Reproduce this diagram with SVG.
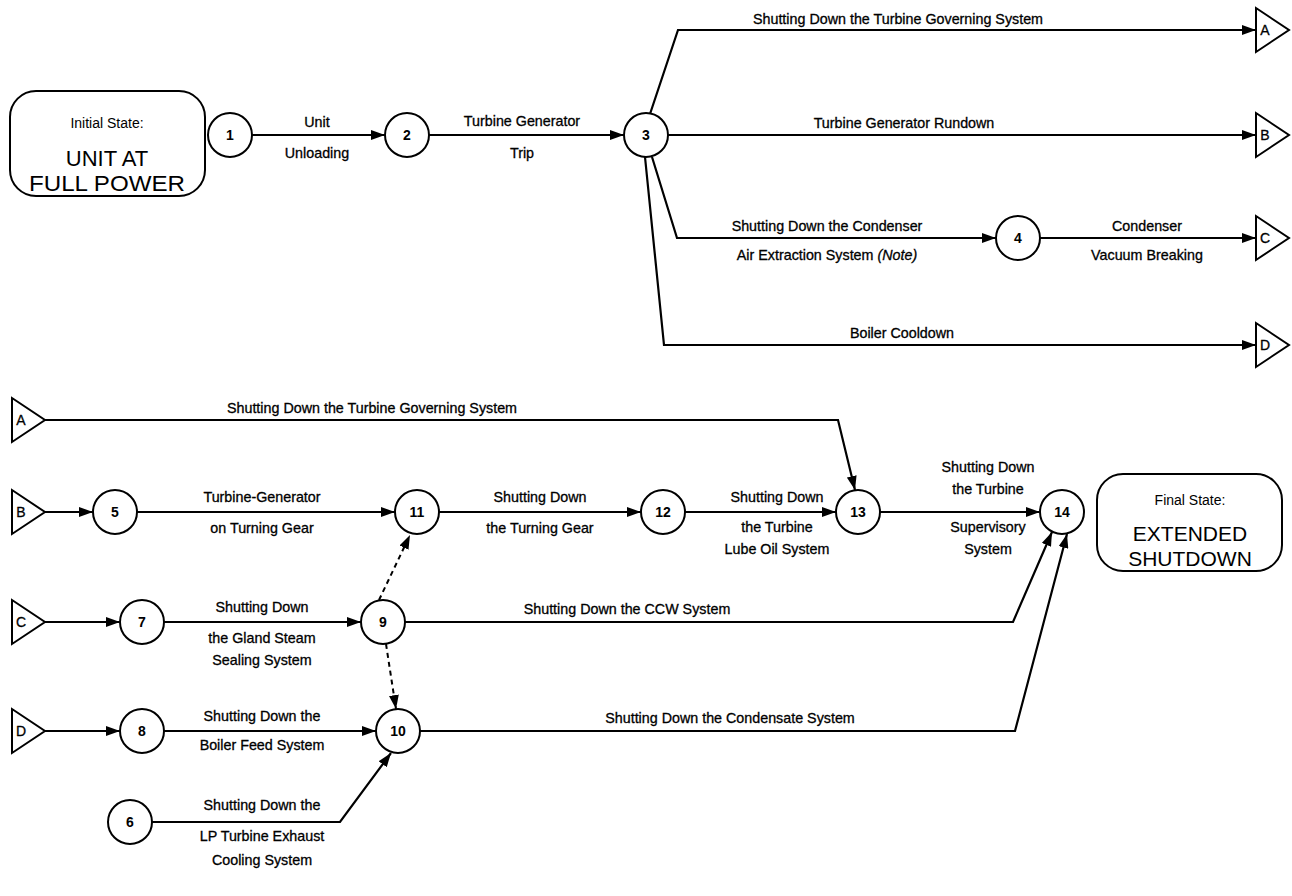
<svg xmlns="http://www.w3.org/2000/svg" width="1292" height="896" viewBox="0 0 1292 896">
<style>
text{font-family:"Liberation Sans",Arial,sans-serif;fill:#000;text-anchor:middle}
.lbl{font-size:14.3px;stroke:#000;stroke-width:0.3}
.num{font-size:14px;font-weight:bold}
.big{font-size:22px}
.big2{font-size:21px}
.st{font-size:14px}
.tri{font-size:14px;stroke:#000;stroke-width:0.3}
.shape{fill:#fff;stroke:#000;stroke-width:2}
.c{fill:none;stroke:#000;stroke-width:2.2}
.d{fill:none;stroke:#000;stroke-width:2;stroke-dasharray:5 4}
</style>
<defs>
<marker id="ah" viewBox="0 0 14 10" refX="14" refY="5" markerWidth="14" markerHeight="10" markerUnits="userSpaceOnUse" orient="auto"><path d="M0,0 L14,5 L0,10 Z" fill="#000"/></marker>
</defs>
<rect width="1292" height="896" fill="#fff"/>
<g id="connectors">
<line class="c" x1="252" y1="135" x2="385" y2="135" marker-end="url(#ah)"/>
<line class="c" x1="429" y1="135" x2="624" y2="135" marker-end="url(#ah)"/>
<path class="c" d="M650,114 L678,30 L1256,30" marker-end="url(#ah)"/>
<line class="c" x1="668" y1="135" x2="1256" y2="135" marker-end="url(#ah)"/>
<path class="c" d="M652,157 L677,238 L996,238" marker-end="url(#ah)"/>
<line class="c" x1="1040" y1="238" x2="1256" y2="238" marker-end="url(#ah)"/>
<path class="c" d="M645,157 L664,345 L1256,345" marker-end="url(#ah)"/>
<path class="c" d="M45,420 L838,420 L855,490" marker-end="url(#ah)"/>
<line class="c" x1="45" y1="512" x2="93" y2="512" marker-end="url(#ah)"/>
<line class="c" x1="137" y1="512" x2="395" y2="512" marker-end="url(#ah)"/>
<line class="c" x1="439" y1="512" x2="641" y2="512" marker-end="url(#ah)"/>
<line class="c" x1="685" y1="512" x2="836" y2="512" marker-end="url(#ah)"/>
<line class="c" x1="880" y1="512" x2="1040" y2="512" marker-end="url(#ah)"/>
<line class="c" x1="45" y1="622" x2="120" y2="622" marker-end="url(#ah)"/>
<line class="c" x1="164" y1="622" x2="361" y2="622" marker-end="url(#ah)"/>
<path class="c" d="M405,622 L1013,622 L1052,532" marker-end="url(#ah)"/>
<path class="d" d="M379,600 L410,535" marker-end="url(#ah)"/>
<path class="d" d="M386,644 L396,709" marker-end="url(#ah)"/>
<line class="c" x1="45" y1="731" x2="120" y2="731" marker-end="url(#ah)"/>
<line class="c" x1="164" y1="731" x2="376" y2="731" marker-end="url(#ah)"/>
<path class="c" d="M420,731 L1015,731 L1067,534" marker-end="url(#ah)"/>
<path class="c" d="M152,822 L340,822 L391,753" marker-end="url(#ah)"/>
</g>
<g id="labels">
<text class="lbl" x="317" y="127">Unit</text>
<text class="lbl" x="317" y="158">Unloading</text>
<text class="lbl" x="522" y="126">Turbine Generator</text>
<text class="lbl" x="522" y="158">Trip</text>
<text class="lbl" x="898" y="24">Shutting Down the Turbine Governing System</text>
<text class="lbl" x="904" y="128">Turbine Generator Rundown</text>
<text class="lbl" x="827" y="231">Shutting Down the Condenser</text>
<text class="lbl" x="827" y="260">Air Extraction System  <tspan font-style="italic">(Note)</tspan></text>
<text class="lbl" x="1147" y="231">Condenser</text>
<text class="lbl" x="1147" y="260">Vacuum Breaking</text>
<text class="lbl" x="902" y="338">Boiler Cooldown</text>
<text class="lbl" x="372" y="413">Shutting Down the Turbine Governing System</text>
<text class="lbl" x="262" y="502">Turbine-Generator</text>
<text class="lbl" x="262" y="533">on Turning Gear</text>
<text class="lbl" x="540" y="502">Shutting Down</text>
<text class="lbl" x="540" y="533">the Turning Gear</text>
<text class="lbl" x="777" y="502">Shutting Down</text>
<text class="lbl" x="777" y="532">the  Turbine</text>
<text class="lbl" x="777" y="554">Lube Oil System</text>
<text class="lbl" x="988" y="472">Shutting Down</text>
<text class="lbl" x="988" y="494">the Turbine</text>
<text class="lbl" x="988" y="532">Supervisory</text>
<text class="lbl" x="988" y="554">System</text>
<text class="lbl" x="262" y="612">Shutting Down</text>
<text class="lbl" x="262" y="643">the Gland Steam</text>
<text class="lbl" x="262" y="665">Sealing System</text>
<text class="lbl" x="627" y="614">Shutting Down the CCW System</text>
<text class="lbl" x="262" y="721">Shutting Down the</text>
<text class="lbl" x="262" y="750">Boiler Feed System</text>
<text class="lbl" x="730" y="723">Shutting Down the Condensate System</text>
<text class="lbl" x="262" y="810">Shutting Down the</text>
<text class="lbl" x="262" y="841">LP Turbine Exhaust</text>
<text class="lbl" x="262" y="865">Cooling System</text>
</g>
<g id="initial">
<rect class="shape" x="10" y="91" width="195" height="105" rx="26"/>
<text class="st" x="107" y="128">Initial State:</text>
<text class="big" x="107" y="166">UNIT AT</text>
<text class="big" x="107" y="191" textLength="156" lengthAdjust="spacingAndGlyphs">FULL POWER</text>
</g>
<g id="final">
<rect class="shape" x="1097" y="474" width="185" height="97" rx="26"/>
<text class="st" x="1190" y="505">Final State:</text>
<text class="big2" x="1190" y="541">EXTENDED</text>
<text class="big2" x="1190" y="566">SHUTDOWN</text>
</g>
<g id="n1"><circle class="shape" cx="230" cy="135" r="22"/><text class="num" x="230" y="140">1</text></g>
<g id="n2"><circle class="shape" cx="407" cy="135" r="22"/><text class="num" x="407" y="140">2</text></g>
<g id="n3"><circle class="shape" cx="646" cy="135" r="22"/><text class="num" x="646" y="140">3</text></g>
<g id="n4"><circle class="shape" cx="1018" cy="238" r="22"/><text class="num" x="1018" y="243">4</text></g>
<g id="n5"><circle class="shape" cx="115" cy="512" r="22"/><text class="num" x="115" y="517">5</text></g>
<g id="n6"><circle class="shape" cx="130" cy="822" r="22"/><text class="num" x="130" y="827">6</text></g>
<g id="n7"><circle class="shape" cx="142" cy="622" r="22"/><text class="num" x="142" y="627">7</text></g>
<g id="n8"><circle class="shape" cx="142" cy="731" r="22"/><text class="num" x="142" y="736">8</text></g>
<g id="n9"><circle class="shape" cx="383" cy="622" r="22"/><text class="num" x="383" y="627">9</text></g>
<g id="n10"><circle class="shape" cx="398" cy="731" r="22"/><text class="num" x="398" y="736">10</text></g>
<g id="n11"><circle class="shape" cx="417" cy="512" r="22"/><text class="num" x="417" y="517">11</text></g>
<g id="n12"><circle class="shape" cx="663" cy="512" r="22"/><text class="num" x="663" y="517">12</text></g>
<g id="n13"><circle class="shape" cx="858" cy="512" r="22"/><text class="num" x="858" y="517">13</text></g>
<g id="n14"><circle class="shape" cx="1062" cy="512" r="22"/><text class="num" x="1062" y="517">14</text></g>
<g id="offA_out"><path class="shape" d="M1256,8 L1289,30 L1256,52 Z"/><text class="tri" x="1265" y="35">A</text></g>
<g id="offB_out"><path class="shape" d="M1256,113 L1289,135 L1256,157 Z"/><text class="tri" x="1265" y="140">B</text></g>
<g id="offC_out"><path class="shape" d="M1256,216 L1289,238 L1256,260 Z"/><text class="tri" x="1265" y="243">C</text></g>
<g id="offD_out"><path class="shape" d="M1256,323 L1289,345 L1256,367 Z"/><text class="tri" x="1265" y="350">D</text></g>
<g id="offA_in"><path class="shape" d="M12,398 L45,420 L12,442 Z"/><text class="tri" x="21" y="425">A</text></g>
<g id="offB_in"><path class="shape" d="M12,490 L45,512 L12,534 Z"/><text class="tri" x="21" y="517">B</text></g>
<g id="offC_in"><path class="shape" d="M12,600 L45,622 L12,644 Z"/><text class="tri" x="21" y="627">C</text></g>
<g id="offD_in"><path class="shape" d="M12,709 L45,731 L12,753 Z"/><text class="tri" x="21" y="736">D</text></g>
</svg>
